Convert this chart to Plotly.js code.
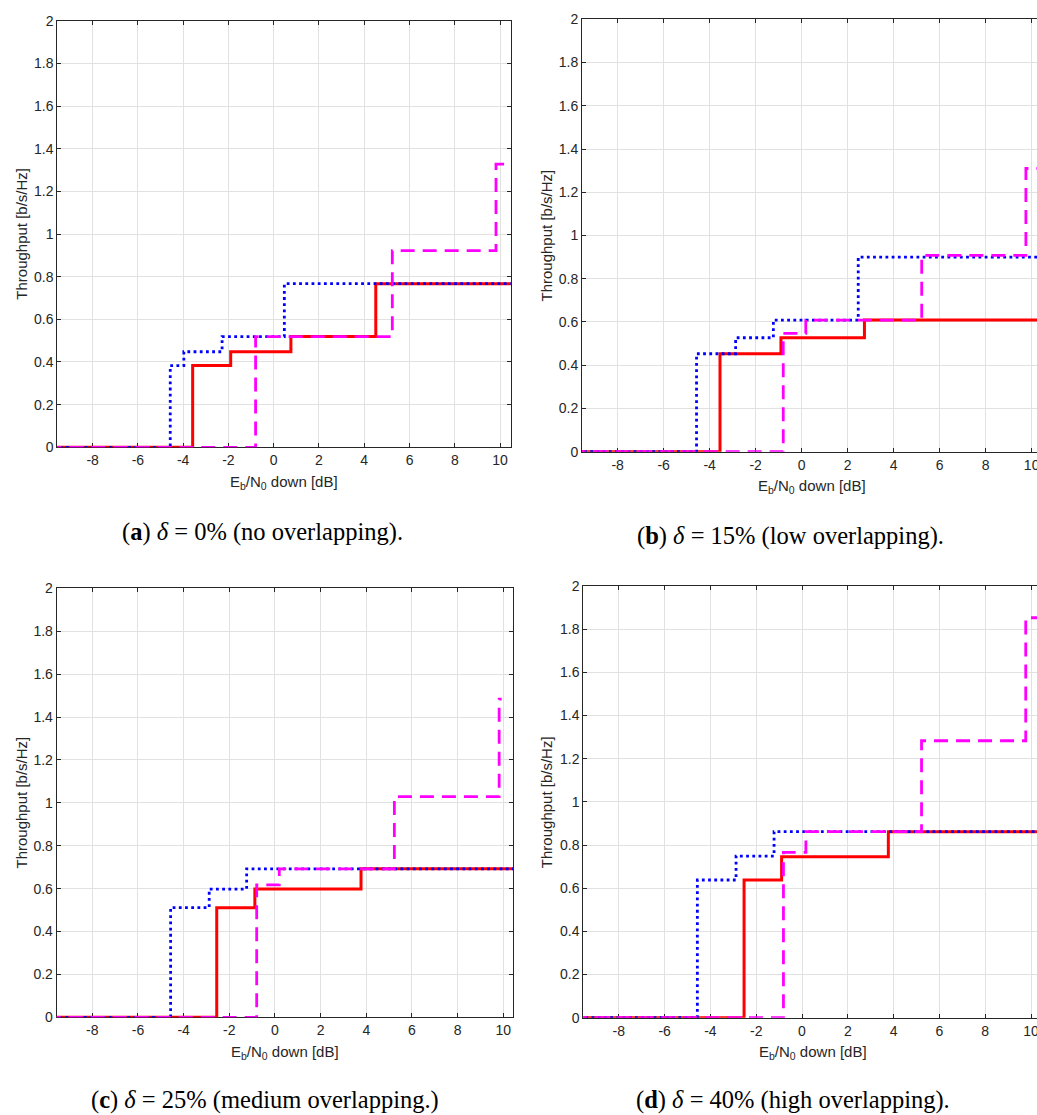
<!DOCTYPE html>
<html>
<head>
<meta charset="utf-8">
<script src="https://cdn.plot.ly/plotly-3.0.1.min.js"></script>
<style>
html, body { margin:0; padding:0; overflow:hidden; background:#fff; }
#chart { width:1050px; height:1115px; }
</style>
</head>
<body>
<div id="chart"></div>
<script>
// ---------- data ----------
const xTickVals = [-8, -6, -4, -2, 0, 2, 4, 6, 8, 10];
const xTickText = ['-8', '-6', '-4', '-2', '0', '2', '4', '6', '8', '10'];
const yTickVals = [0, 0.2, 0.4, 0.6, 0.8, 1, 1.2, 1.4, 1.6, 1.8, 2];
const yTickText = ['0', '0.2', '0.4', '0.6', '0.8', '1', '1.2', '1.4', '1.6', '1.8', '2'];

// (a) delta = 0%
const aRedX  = [-10, -3.58, -1.9, 0.76, 4.51, 11];
const aRedY  = [0, 0.383, 0.448, 0.519, 0.767, 0.767];
const aBlueX = [-10, -4.57, -3.97, -2.28, 0.47, 11];
const aBlueY = [0, 0.383, 0.448, 0.519, 0.767, 0.767];
const aMagX  = [-10, -0.8, 5.24, 9.82, 11];
const aMagY  = [0, 0.519, 0.922, 1.328, 1.328];

// (b) delta = 15%
const bRedX  = [-10, -3.55, -0.9, 2.73, 11];
const bRedY  = [0, 0.453, 0.527, 0.609, 0.609];
const bBlueX = [-10, -4.57, -2.87, -1.23, 2.46, 11];
const bBlueY = [0, 0.453, 0.527, 0.609, 0.9, 0.9];
const bMagX  = [-10, -0.8, 0.18, 5.22, 9.75, 11];
const bMagY  = [0, 0.547, 0.609, 0.908, 1.31, 1.31];

// (c) delta = 25%
const cRedX  = [-10, -2.55, -0.88, 3.77, 11];
const cRedY  = [0, 0.511, 0.598, 0.692, 0.692];
const cBlueX = [-10, -4.57, -2.88, -1.24, 11];
const cBlueY = [0, 0.511, 0.598, 0.692, 0.692];
const cMagX  = [-10, -0.8, 0.19, 5.23, 9.82, 9.93];
const cMagY  = [0, 0.617, 0.692, 1.029, 1.483, 1.483];

// (d) delta = 40%
const dRedX  = [-10, -2.53, -0.89, 3.77, 11];
const dRedY  = [0, 0.638, 0.746, 0.862, 0.862];
const dBlueX = [-10, -4.57, -2.88, -1.22, 11];
const dBlueY = [0, 0.638, 0.749, 0.862, 0.862];
const dMagX  = [-10, -0.81, 0.17, 5.22, 9.77, 11];
const dMagY  = [0, 0.766, 0.862, 1.283, 1.853, 1.853];

const captions = [
  '(<b>a</b>) <i>δ</i> = 0% (no overlapping).',
  '(<b>b</b>) <i>δ</i> = 15% (low overlapping).',
  '(<b>c</b>) <i>δ</i> = 25% (medium overlapping.)',
  '(<b>d</b>) <i>δ</i> = 40% (high overlapping).'
];
const yTitle = 'Throughput [b/s/Hz]';
const xTitle = 'E<sub>b</sub>/N<sub>0</sub> down [dB]';

// ---------- layout geometry (pixels) ----------
const W = 1050, H = 1115;
const panels = [
  {sx:'', l:57.3, r:510.7, t:20.7, b:447.3, range:[-9.56, 10.47], yt:{x:21.7}, xt:{x:284, y:482}, cap:{x:262, y:532}},
  {sx:'2', l:582, r:1042, t:19.3, b:451.7, range:[-9.55, 10.45], yt:{x:546}, xt:{x:812, y:486.5}, cap:{x:790, y:536}},
  {sx:'3', l:56.7, r:513.3, t:588.3, b:1017.3, range:[-9.56, 10.44], yt:{x:21.7}, xt:{x:285, y:1052}, cap:{x:265, y:1100}},
  {sx:'4', l:583.3, r:1042, t:586, b:1017.7, range:[-9.55, 10.48], yt:{x:547.3}, xt:{x:812.5, y:1052.5}, cap:{x:793, y:1100}}
];
const series = [
  [aRedX, aRedY, aBlueX, aBlueY, aMagX, aMagY],
  [bRedX, bRedY, bBlueX, bBlueY, bMagX, bMagY],
  [cRedX, cRedY, cBlueX, cBlueY, cMagX, cMagY],
  [dRedX, dRedY, dBlueX, dBlueY, dMagX, dMagY]
];

const axisColor = '#262626';
const tickFont = {family:'Liberation Sans, Arial, sans-serif', size:14, color:axisColor};

const traces = [];
const layout = {
  width: W, height: H,
  margin: {l:0, r:0, t:0, b:0},
  paper_bgcolor: '#ffffff', plot_bgcolor: '#ffffff',
  showlegend: false,
  annotations: []
};

panels.forEach((p, i) => {
  const s = series[i];
  const xa = 'x' + p.sx, ya = 'y' + p.sx;
  traces.push({x:s[0], y:s[1], xaxis:xa, yaxis:ya, mode:'lines', line:{shape:'hv', color:'#ff0000', width:3}});
  traces.push({x:s[2], y:s[3], xaxis:xa, yaxis:ya, mode:'lines', line:{shape:'hv', color:'#0000ff', width:2.8, dash:'2.8px,3.4px'}});
  traces.push({x:s[4], y:s[5], xaxis:xa, yaxis:ya, mode:'lines', line:{shape:'hv', color:'#ff00ff', width:2.8, dash:'14px,8px'}});

  const common = {
    showline:true, linecolor:axisColor, linewidth:1, mirror:'ticks',
    ticks:'inside', ticklen:4, tickwidth:1, tickcolor:axisColor,
    showgrid:true, gridcolor:'#e1e1e1', gridwidth:1, zeroline:false,
    tickfont:tickFont, layer:'below traces', fixedrange:true
  };
  layout['xaxis' + p.sx] = Object.assign({}, common, {
    domain:[p.l / W, p.r / W], range:p.range, anchor:ya,
    tickmode:'array', tickvals:xTickVals, ticktext:xTickText
  });
  layout['yaxis' + p.sx] = Object.assign({}, common, {
    domain:[1 - p.b / H, 1 - p.t / H], range:[0, 2], anchor:xa,
    tickmode:'array', tickvals:yTickVals, ticktext:yTickText
  });

  // y title
  layout.annotations.push({
    xref:'paper', yref:'paper', x:p.yt.x / W, y:1 - ((p.t + p.b) / 2) / H,
    xanchor:'center', yanchor:'middle', textangle:-90, showarrow:false,
    text:yTitle, font:{family:'Liberation Sans, Arial, sans-serif', size:15, color:axisColor}
  });
  // x title
  layout.annotations.push({
    xref:'paper', yref:'paper', x:p.xt.x / W, y:1 - p.xt.y / H,
    xanchor:'center', yanchor:'middle', showarrow:false,
    text:xTitle, font:{family:'Liberation Sans, Arial, sans-serif', size:15, color:axisColor}
  });
  // caption
  layout.annotations.push({
    xref:'paper', yref:'paper', x:p.cap.x / W, y:1 - p.cap.y / H,
    xanchor:'center', yanchor:'middle', showarrow:false,
    text:captions[i], font:{family:'Liberation Serif, Times New Roman, serif', size:24.5, color:'#000000'}
  });
});

Plotly.newPlot('chart', traces, layout, {staticPlot:true, displayModeBar:false});
</script>
</body>
</html>
